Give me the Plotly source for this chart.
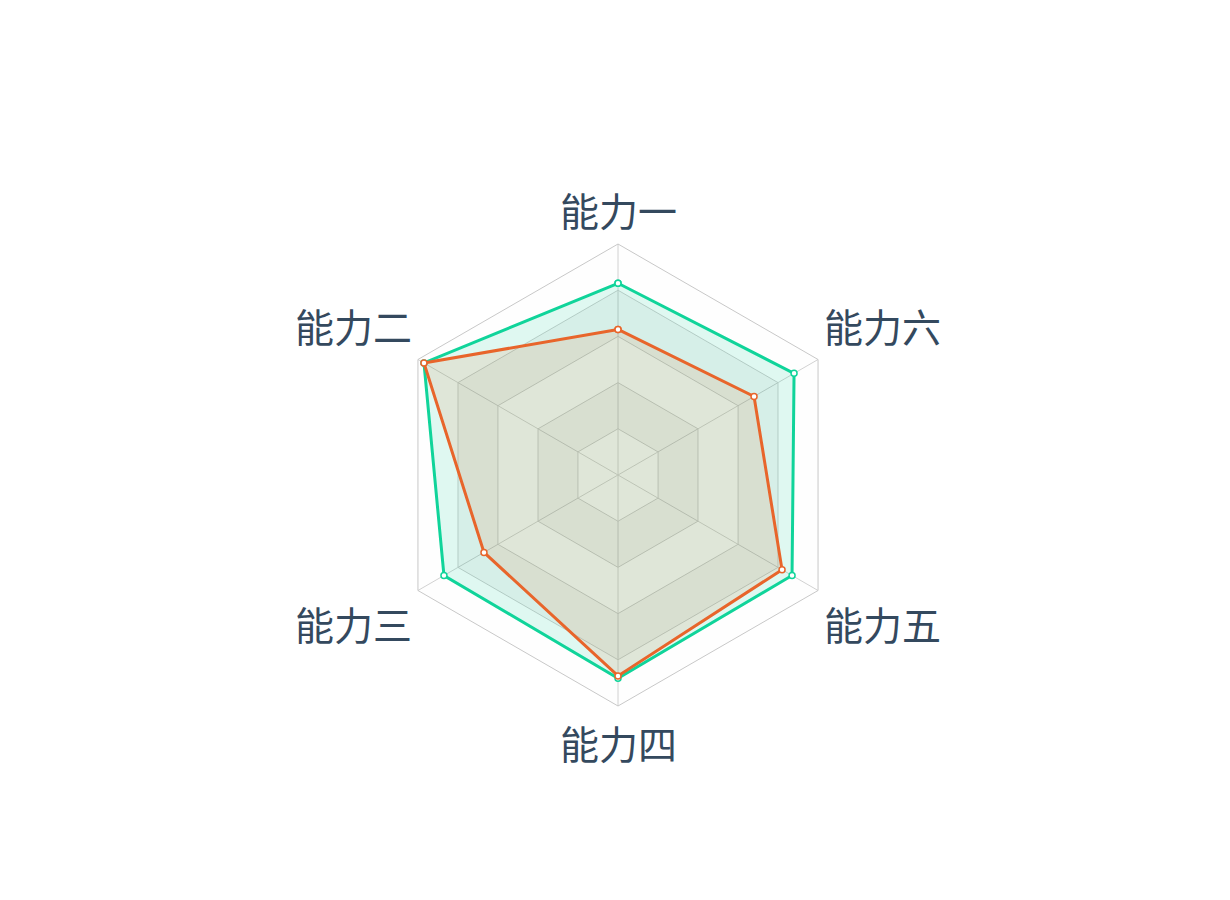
import math
import plotly.graph_objects as go

categories = ["能力一", "能力二", "能力三", "能力四", "能力五", "能力六"]
series_a = [83, 97, 87, 88, 87, 88]
series_b = [63, 97, 67, 87, 82, 68]
series_names = ["系列一", "系列二"]
grid_levels = [0, 20, 40, 60, 80, 100]

GREEN = "#10d49a"
ORANGE = "#e8652b"
GRID = "#c8c8c8"
LABEL = "#34495e"
FONT = "Noto Sans CJK SC"

W, H = 1230, 900
L, R, T, B = 300, 294, 244, 194

fig = go.Figure()

closed = categories + [categories[0]]
band_colors = ["rgba(250,250,250,0.2)", "rgba(200,200,200,0.2)"]
for i in range(1, len(grid_levels)):
    r_in, r_out = grid_levels[i - 1], grid_levels[i]
    theta = closed + closed[::-1]
    r = [r_out] * len(closed) + [r_in] * len(closed)
    fig.add_trace(go.Scatterpolar(
        r=r, theta=theta, mode="none", fill="toself",
        fillcolor=band_colors[(i - 1) % 2], hoverinfo="skip", showlegend=False,
    ))

for vals, name, col, fc in [
    (series_a, series_names[0], GREEN, "rgba(16,212,154,0.13)"),
    (series_b, series_names[1], ORANGE, "rgba(232,110,43,0.12)"),
]:
    fig.add_trace(go.Scatterpolar(
        r=vals + [vals[0]], theta=closed, name=name,
        mode="lines+markers", fill="toself", fillcolor=fc,
        line=dict(color=col, width=3),
        marker=dict(size=6, color="white", line=dict(color=col, width=1.5)),
        showlegend=False,
    ))

# axis name labels placed just outside each vertex of the radar frame
pw, ph = W - L - R, H - T - B
cx, cy = L + pw / 2, T + ph / 2
rad = min(pw, ph) / 2
annotations = []
for i, name in enumerate(categories):
    a = math.radians(90 + 360 / len(categories) * i)
    c, s = math.cos(a), math.sin(a)
    vx, vy = cx + rad * c, cy - rad * s
    if c < -0.1:
        xa, px = "right", vx - 4
    elif c > 0.1:
        xa, px = "left", vx + 4
    else:
        xa, px = "center", vx
    if s > 0.1:
        py = vy - 35
    elif abs(c) > 0.1:
        py = vy + 32
    else:
        py = vy + 36
    annotations.append(dict(
        text=name, xref="paper", yref="paper",
        x=(px - L) / pw, y=1 - (py - T) / ph,
        xanchor=xa, yanchor="middle", showarrow=False,
        font=dict(size=39, color=LABEL, family=FONT),
    ))

fig.update_layout(
    width=W, height=H,
    margin=dict(l=L, r=R, t=T, b=B),
    paper_bgcolor="white",
    showlegend=False,
    annotations=annotations,
    polar=dict(
        bgcolor="rgba(0,0,0,0)",
        gridshape="linear",
        radialaxis=dict(
            range=[0, 100], tickvals=grid_levels[1:], showticklabels=False,
            ticks="", showline=False, gridcolor=GRID, gridwidth=1,
        ),
        angularaxis=dict(
            type="category", categoryarray=categories,
            rotation=90, direction="counterclockwise",
            showline=True, linecolor=GRID, linewidth=1,
            showgrid=True, gridcolor=GRID, gridwidth=1,
            ticks="", showticklabels=False,
        ),
    ),
)

fig.write_html("out.html")
